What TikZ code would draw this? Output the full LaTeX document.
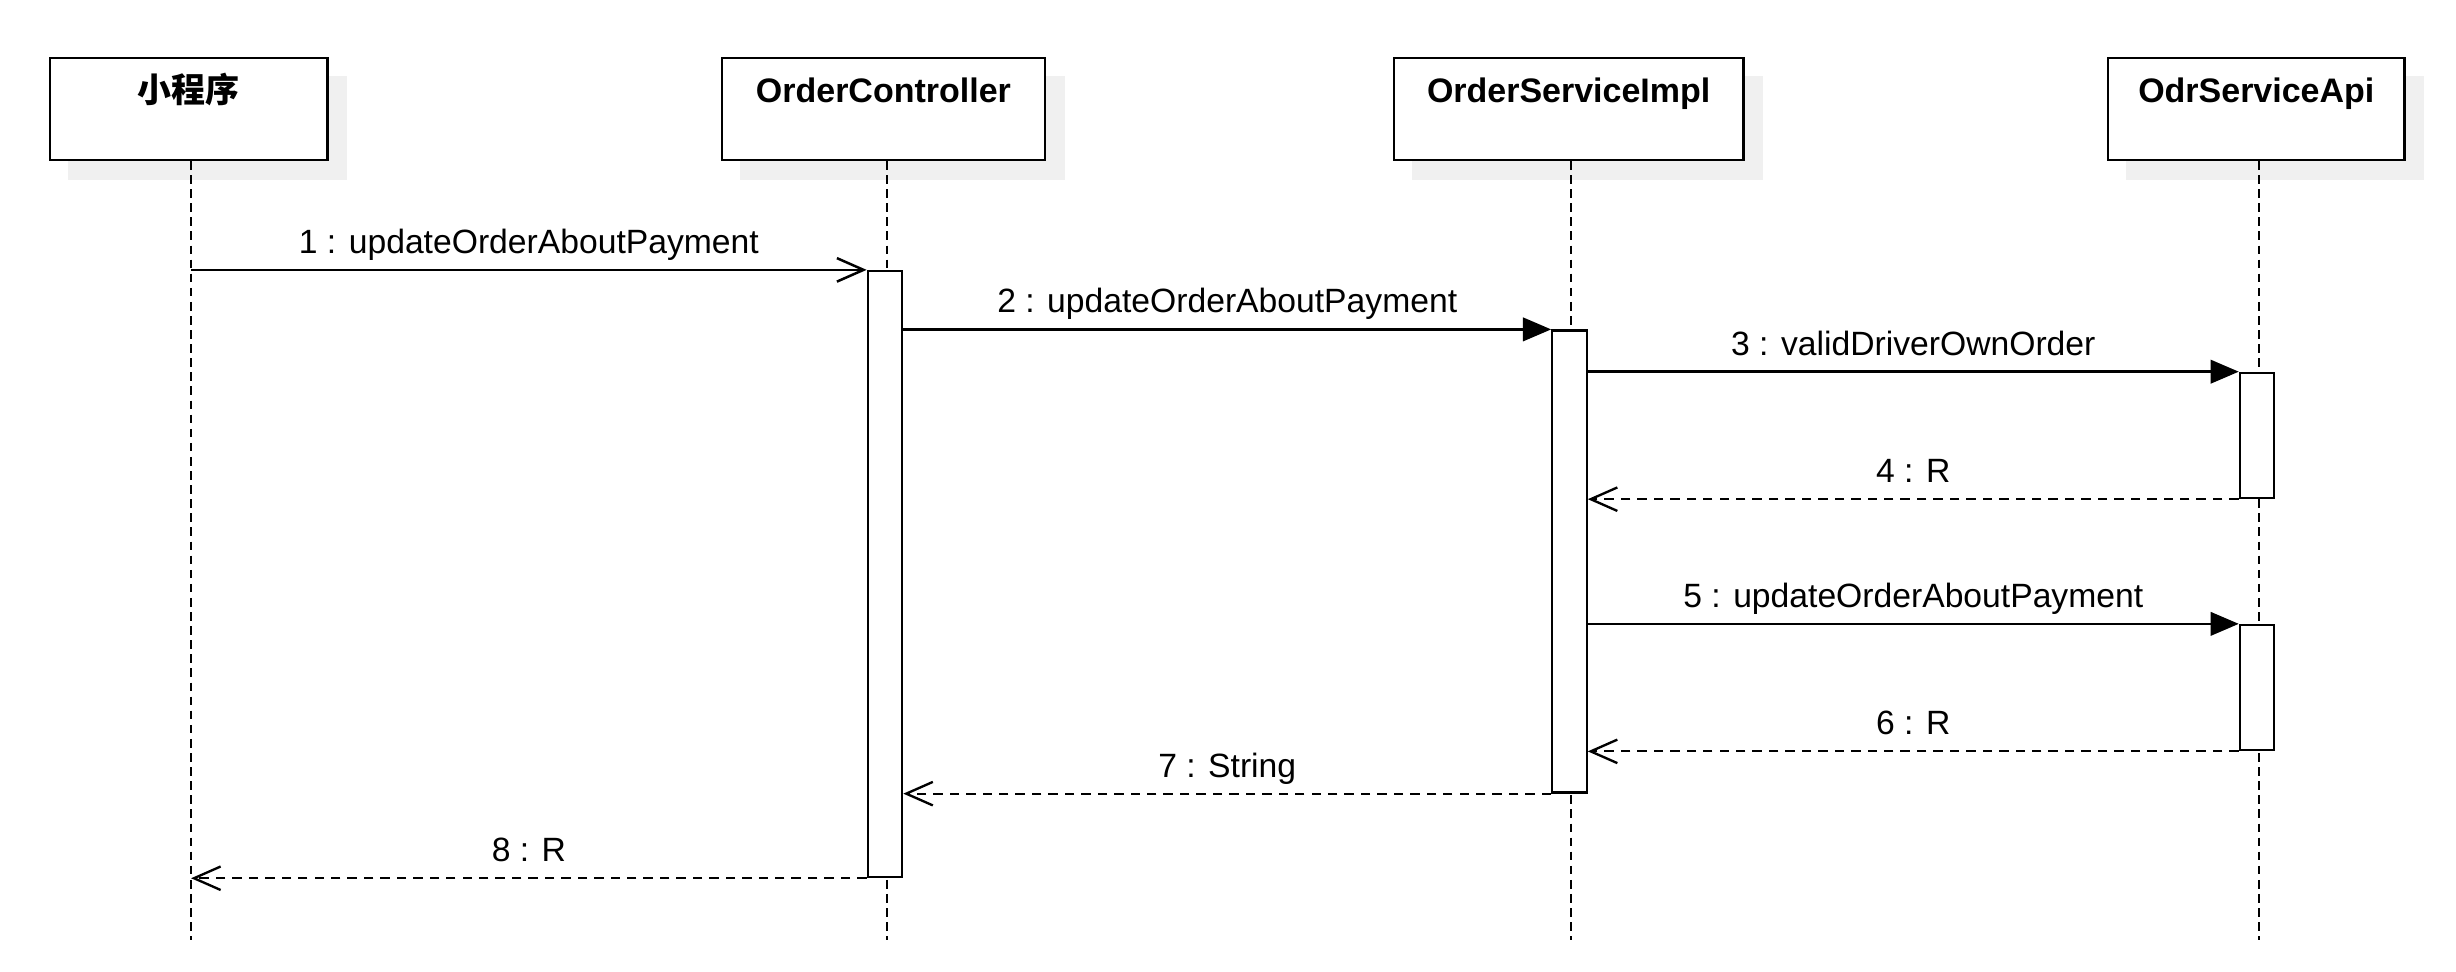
\documentclass[tikz,border=0pt]{standalone}
\usepackage{fontspec}
\setmainfont{Liberation Sans}
\newfontfamily\cjk{Noto Sans CJK SC}
\usetikzlibrary{arrows.meta,calc}
\begin{document}
\begin{tikzpicture}[x=1pt,y=-1pt,
 box/.style={draw,line width=1.5pt,fill=white,inner sep=0pt},
 shadowc/.style={fill=black!6},
 title/.style={font=\fontsize{21.7}{26}\selectfont\bfseries, inner sep=0pt, anchor=base},
 msgl/.style={font=\fontsize{21.5}{26}\selectfont, inner sep=0pt, anchor=base, yshift=10.5pt},
 lifeline/.style={line width=1.3pt, dash pattern=on 5.5pt off 3.5pt},
 act/.style={draw,line width=1.4pt,fill=white,minimum width=22pt,inner sep=0pt},
 call/.style={line width=1.6pt,-{Triangle[length=18pt,width=15pt]}},
 async/.style={line width=1.6pt,-{Straight Barb[length=17pt,width=15pt]}},
 ret/.style={line width=1.3pt,dash pattern=on 6pt off 4.5pt,-{Straight Barb[length=17pt,width=15pt,line width=1.5pt]}}
]
\useasboundingbox (0,0) rectangle (1568,620);
\fill[white] (0,0) rectangle (1568,620);

% participants
\node[box, minimum width=177pt, minimum height=65pt] (p1) at (120.5,69.5) {};
\node[box, minimum width=206pt, minimum height=65pt] (p2) at (564,69.5) {};
\node[box, minimum width=223pt, minimum height=65pt] (p3) at (1001.5,69.5) {};
\node[box, minimum width=189pt, minimum height=65pt] (p4) at (1440.5,69.5) {};

% shadows
\foreach \p in {p1,p2,p3,p4}{
  \fill[shadowc] ($(\p.south west)+(12,0)$) rectangle ($(\p.south east)+(12,12)$);
  \fill[shadowc] ($(\p.north east)+(0,12)$) rectangle ($(\p.south east)+(12,12)$);
}

\node[title] (t1) at ($(p1.north)+(0,29)$) {\cjk\bfseries 小程序};
\node[title] (t2) at ($(p2.north)+(0,29)$) {OrderController};
\node[title] (t3) at ($(p3.north)+(0,29)$) {OrderServiceImpl};
\node[title] (t4) at ($(p4.north)+(0,29)$) {OdrServiceApi};

% lifelines
\coordinate (e1) at (122,600);
\coordinate (e2) at (566,600);
\coordinate (e3) at (1003,600);
\coordinate (e4) at (1442,600);
\draw[lifeline] (p1.south -| e1) -- (e1);
\draw[lifeline] (p2.south -| e2) -- (e2);
\draw[lifeline] (p3.south -| e3) -- (e3);
\draw[lifeline] (p4.south -| e4) -- (e4);

% activations
\node[act, minimum height=387pt] (a2) at (565,366.5) {};
\node[act, minimum height=295pt] (a3) at (1002,358.5) {};
\node[act, minimum height=80pt] (a4) at (1441,278) {};
\node[act, minimum height=80pt] (a5) at (1441,439) {};

% messages
\coordinate (m1s) at (e1 |- a2.north);
\draw[async] (m1s) -- (a2.north west)
  node[msgl, midway] (l1) {1 : updateOrderAboutPayment};
\draw[call] (a2.east |- a3.north) -- (a3.north west)
  node[msgl, midway] (l2) {2 : updateOrderAboutPayment};
\draw[call] (a3.east |- a4.north) -- (a4.north west)
  node[msgl, midway] (l3) {3 : validDriverOwnOrder};
\draw[ret] (a4.south west) -- (a3.east |- a4.south)
  node[msgl, midway] (l4) {4 : R};
\draw[call] (a3.east |- a5.north) -- (a5.north west)
  node[msgl, midway] (l5) {5 : updateOrderAboutPayment};
\draw[ret] (a5.south west) -- (a3.east |- a5.south)
  node[msgl, midway] (l6) {6 : R};
\draw[ret] (a3.south west) -- (a2.east |- a3.south)
  node[msgl, midway] (l7) {7 : String};
\coordinate (m8e) at (e1 |- a2.south);
\draw[ret] (a2.south west) -- (m8e)
  node[msgl, midway] (l8) {8 : R};
\end{tikzpicture}
\end{document}
